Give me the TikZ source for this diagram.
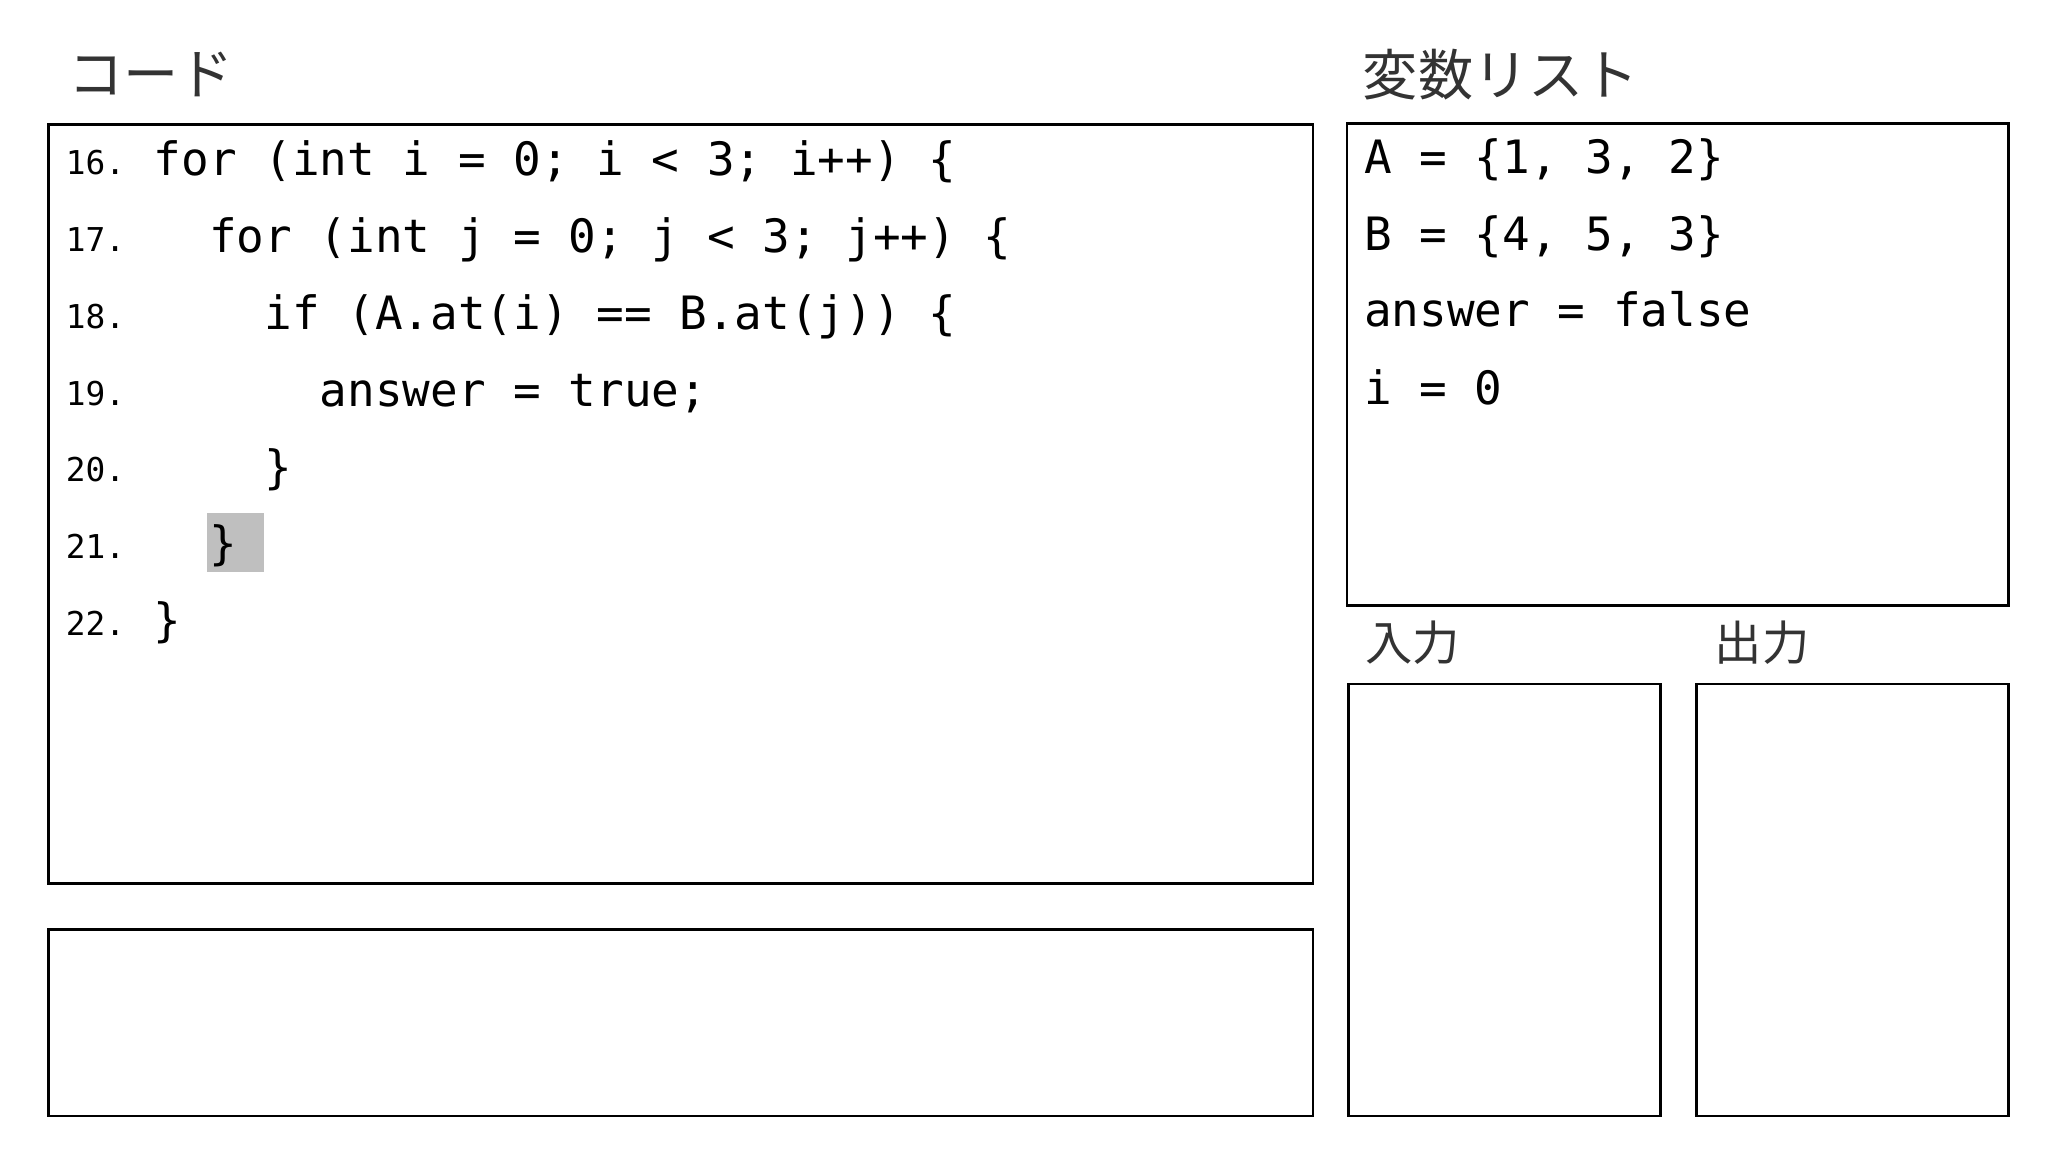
\documentclass[tikz,border=0pt]{standalone}
\usepackage{fontspec}
\setmonofont{DejaVu Sans Mono}
\newfontfamily\jp{Noto Sans CJK JP}
\begin{document}
\begin{tikzpicture}[x=1pt,y=-1pt,
  box/.style={draw=black,line width=2pt},
  code/.style={anchor=base west,inner sep=0pt,font=\fontsize{35}{40}\selectfont\ttfamily},
  lnum/.style={anchor=base west,inner sep=0pt,font=\fontsize{25}{30}\selectfont\ttfamily},
  ttl/.style={anchor=base west,inner sep=0pt,font=\fontsize{42}{48}\selectfont\jp\addfontfeature{Color=333333}},
  ttls/.style={anchor=base west,inner sep=0pt,font=\fontsize{36}{40}\selectfont\jp\addfontfeature{Color=333333}}]
\useasboundingbox[fill=white] (0,0) rectangle (1560,877.5);
\fill[gray!50] (158,391) rectangle (201,436);
\draw[box] (37,95) rectangle (1000,673);
\draw[box] (37,708) rectangle (1000,850);
\draw[box] (1026,94) rectangle (1530,461);
\draw[box] (1027,521) rectangle (1265,850);
\draw[box] (1292,521) rectangle (1530,850);
\node[ttl] (t1) at (52,72) {コード};
\node[ttl] (t2) at (1038,73) {変数リスト};
\node[ttls] (t3) at (1040,503) {入力};
\node[ttls] (t4) at (1306,503) {出力};
\foreach \n/\t [count=\k from 0] in {16./for (int i = 0; i < 3; i++) \{,
  17./\ \ for (int j = 0; j < 3; j++) \{,
  18./\ \ \ \ if (A.at(i) == B.at(j)) \{,
  19./\ \ \ \ \ \ answer = true;,
  20./\ \ \ \ \},
  21./\ \ \},
  22./\}}{
  \node[lnum] (n\k) at (50,{133+58.5*\k}) {\n};
  \node[code] (c\k) at (117,{134+58.5*\k}) {\t};
}
\node[code] (v1) at (1039,132) {A = \{1, 3, 2\}};
\node[code] (v2) at (1039,191) {B = \{4, 5, 3\}};
\node[code] (v3) at (1039,249) {answer = false};
\node[code] (v4) at (1039,308) {i = 0};
\end{tikzpicture}
\end{document}
